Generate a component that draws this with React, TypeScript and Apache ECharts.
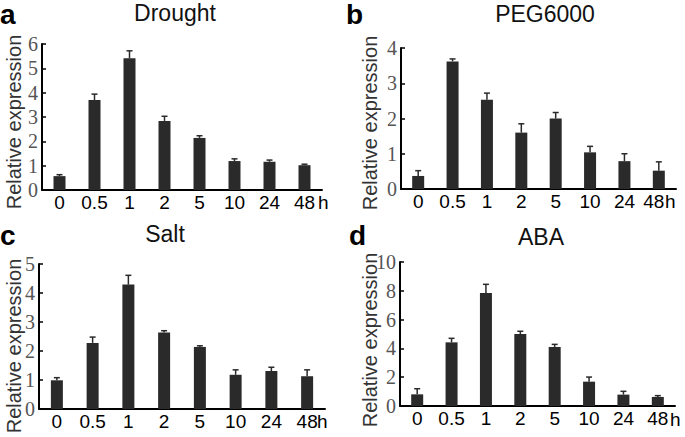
import React, { useEffect, useRef } from "react";
import * as echarts from "echarts";

const categories = ["0", "0.5", "1", "2", "5", "10", "24", "48"];

const droughtValues = [0.57, 3.7, 5.41, 2.84, 2.14, 1.19, 1.16, 1.02];
const droughtErrors = [0.06, 0.24, 0.31, 0.19, 0.09, 0.09, 0.07, 0.04];

const pegValues = [0.37, 3.62, 2.53, 1.6, 2.0, 1.04, 0.79, 0.52];
const pegErrors = [0.15, 0.07, 0.19, 0.25, 0.17, 0.17, 0.21, 0.25];

const saltValues = [0.99, 2.28, 4.29, 2.64, 2.14, 1.18, 1.31, 1.13];
const saltErrors = [0.09, 0.2, 0.32, 0.06, 0.04, 0.17, 0.13, 0.22];

const abaValues = [0.81, 4.42, 7.85, 5.0, 4.1, 1.69, 0.79, 0.63];
const abaErrors = [0.39, 0.28, 0.6, 0.19, 0.18, 0.32, 0.23, 0.09];

const panelTitles = ["Drought", "PEG6000", "Salt", "ABA"];
const panelLetters = ["a", "b", "c", "d"];
const yMax = [6, 4, 5, 10];
const yInterval = [1, 1, 1, 2];
const yName = "Relative expression";
const unitLabel = "h";

const panels = [
  { values: droughtValues, errors: droughtErrors },
  { values: pegValues, errors: pegErrors },
  { values: saltValues, errors: saltErrors },
  { values: abaValues, errors: abaErrors },
];

const grids = [
  { left: 42, top: 44, width: 280, height: 146 },
  { left: 401, top: 48, width: 275, height: 141 },
  { left: 39, top: 264, width: 286, height: 145 },
  { left: 400, top: 262, width: 275, height: 144 },
];

const titlePos = [
  { x: 175, y: 13 },
  { x: 545, y: 14 },
  { x: 165, y: 234 },
  { x: 541, y: 237 },
];
const letterPos = [
  { x: 0, y: 14 },
  { x: 346, y: 14 },
  { x: 0, y: 235 },
  { x: 349, y: 235 },
];
const namePos = [
  { x: 14, y: 122 },
  { x: 370, y: 123 },
  { x: 14, y: 346 },
  { x: 370, y: 340 },
];
const hPos = [
  { x: 318, y: 202 },
  { x: 665, y: 201 },
  { x: 317, y: 421 },
  { x: 670, y: 419 },
];

export default function App() {
  const ref = useRef<HTMLDivElement>(null);
  useEffect(() => {
    if (!ref.current) return;
    const chart = echarts.init(ref.current, null, { renderer: "svg" });
    const xAxis: any[] = [];
    const yAxis: any[] = [];
    const series: any[] = [];
    const graphic: any[] = [];
    panels.forEach((p, i) => {
      xAxis.push({
        type: "category",
        gridIndex: i,
        data: categories,
        boundaryGap: true,
        axisLine: { lineStyle: { color: "#000", width: 2 } },
        axisTick: { inside: true, length: 4, lineStyle: { color: "#000", width: 1.5 } },
        axisLabel: {
          color: "#000",
          fontFamily: "Liberation Sans, Arial, sans-serif",
          fontSize: 19,
          margin: 3,
          interval: 0,
          formatter: i === 1 ? (v: string) => (v === "48" ? `{s|${v}}` : v) : undefined,
          rich: {
            s: {
              color: "#000",
              fontFamily: "Liberation Sans, Arial, sans-serif",
              fontSize: 19,
              padding: [0, 10, 0, 0],
            },
          },
        },
      });
      yAxis.push({
        type: "value",
        gridIndex: i,
        min: 0,
        max: yMax[i],
        interval: yInterval[i],
        splitLine: { show: false },
        axisLine: { show: true, lineStyle: { color: "#000", width: 2 } },
        axisTick: { show: true, inside: true, length: 4, lineStyle: { color: "#000", width: 1.5 } },
        axisLabel: {
          color: "#555",
          fontFamily: "Liberation Serif, Times New Roman, serif",
          fontSize: 20,
          margin: 4,
        },
      });
      series.push({
        type: "bar",
        xAxisIndex: i,
        yAxisIndex: i,
        data: p.values,
        barWidth: 12,
        itemStyle: { color: "#2a2a2a" },
        z: 2,
      });
      series.push({
        type: "custom",
        xAxisIndex: i,
        yAxisIndex: i,
        data: p.values.map((v, k) => [k, v, v + p.errors[k]]),
        z: 3,
        renderItem: (params: any, api: any) => {
          const base = api.coord([api.value(0), api.value(1)]);
          const top = api.coord([api.value(0), api.value(2)]);
          const style = { stroke: "#2a2a2a", lineWidth: 1.5 };
          return {
            type: "group",
            children: [
              { type: "line", shape: { x1: base[0], y1: base[1], x2: top[0], y2: top[1] }, style },
              { type: "line", shape: { x1: top[0] - 3, y1: top[1], x2: top[0] + 3, y2: top[1] }, style },
            ],
          };
        },
      });
      graphic.push({
        type: "text",
        x: titlePos[i].x,
        y: titlePos[i].y,
        style: {
          text: panelTitles[i],
          fill: "#111",
          font: "23px 'Liberation Sans', Arial, sans-serif",
          textAlign: "center",
          textVerticalAlign: "middle",
        },
      });
      graphic.push({
        type: "text",
        x: letterPos[i].x,
        y: letterPos[i].y,
        style: {
          text: panelLetters[i],
          fill: "#000",
          font: "bold 28px 'Liberation Sans', Arial, sans-serif",
          textAlign: "left",
          textVerticalAlign: "middle",
        },
      });
      graphic.push({
        type: "text",
        x: namePos[i].x,
        y: namePos[i].y,
        rotation: Math.PI / 2,
        style: {
          text: yName,
          fill: "#333",
          font: "20px 'Liberation Sans', Arial, sans-serif",
          textAlign: "center",
          textVerticalAlign: "middle",
        },
      });
      graphic.push({
        type: "text",
        x: hPos[i].x,
        y: hPos[i].y,
        style: {
          text: unitLabel,
          fill: "#000",
          font: "19px 'Liberation Sans', Arial, sans-serif",
          textAlign: "left",
          textVerticalAlign: "middle",
        },
      });
    });
    chart.setOption({
      animation: false,
      backgroundColor: "#fff",
      grid: grids.map((g) => ({ ...g, containLabel: false })),
      xAxis,
      yAxis,
      series,
      graphic,
    });
    return () => chart.dispose();
  }, []);
  return (
    <div
      ref={ref}
      style={{ position: "fixed", left: 0, top: 0, width: 685, height: 437 }}
    />
  );
}
